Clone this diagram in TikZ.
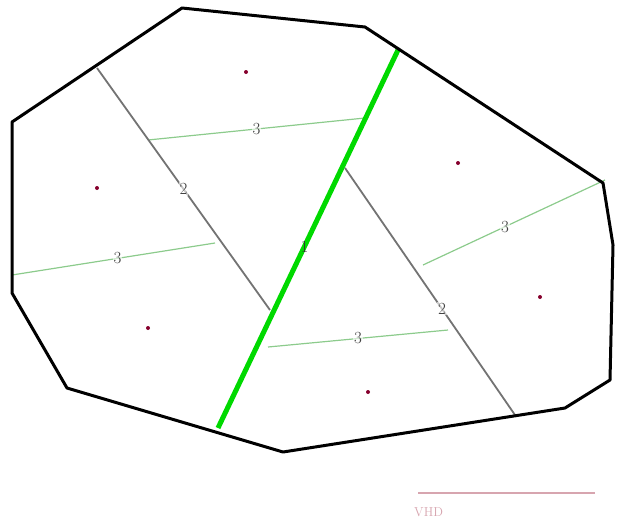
\documentclass[tikz,border=0pt]{standalone}
\definecolor{barcol}{RGB}{215,165,175}
\begin{document}
\begin{tikzpicture}[x=1pt,y=-1pt,
  hull/.style={line width=3pt,black,line join=round},
  cutA/.style={line width=5pt,green!85!black},
  cutB/.style={line width=1.8pt,black!55},
  cutC/.style={line width=1.2pt,green!55!black!45},
  lab/.style={font=\fontsize{17}{19}\selectfont,text=black!75,inner sep=1pt,fill=white,fill opacity=0.6,text opacity=1},
  site/.style={circle,fill=purple!70!black,inner sep=0pt,minimum size=4pt}]
\useasboundingbox (0,0) rectangle (617,528);
% hull vertices
\coordinate (p1) at (182,8);
\coordinate (p2) at (365,27);
\coordinate (p3) at (603,183);
\coordinate (p4) at (613,245);
\coordinate (p5) at (610,380);
\coordinate (p6) at (565,408);
\coordinate (p7) at (283,452);
\coordinate (p8) at (67,388);
\coordinate (p9) at (12,293);
\coordinate (p10) at (12,122);
% cut endpoints
\coordinate (g1) at (398,50);
\coordinate (g2) at (218,428);
\coordinate (a1) at (97,68);
\coordinate (a2) at (270,310);
\coordinate (b1) at (345,168);
\coordinate (b2) at (515,415);
\coordinate (c1) at (148,140);
\coordinate (c2) at (365,118);
\coordinate (d1) at (12,275);
\coordinate (d2) at (215,243);
\coordinate (e1) at (423,265);
\coordinate (e2) at (605,180);
\coordinate (f1) at (268,347);
\coordinate (f2) at (448,330);
% light cuts
\draw[cutC] (c1) -- node[lab] (l3a) {3} (c2);
\draw[cutC] (d1) -- node[lab,pos=0.52] (l3b) {3} (d2);
\draw[cutC] (e1) -- node[lab,pos=0.45] (l3c) {3} (e2);
\draw[cutC] (f1) -- node[lab,pos=0.5] (l3d) {3} (f2);
% gray cuts
\draw[cutB] (a1) -- node[lab,pos=0.5] (l2a) {2} (a2);
\draw[cutB] (b1) -- node[lab,pos=0.57] (l2b) {2} (b2);
% main cut
\draw[cutA] (g1) -- node[lab,pos=0.52,fill opacity=0,text=black!80] (l1) {1} (g2);
% hull
\draw[hull] (p1) -- (p2) -- (p3) -- (p4) -- (p5) -- (p6) -- (p7) -- (p8) -- (p9) -- (p10) -- cycle;
% sites
\node[site] (s1) at (246,72) {};
\node[site] (s2) at (97,188) {};
\node[site] (s3) at (148,328) {};
\node[site] (s4) at (458,163) {};
\node[site] (s5) at (540,297) {};
\node[site] (s6) at (368,392) {};
% scale bar
\coordinate (r1) at (418,493);
\coordinate (r2) at (595,493);
\draw[barcol,line width=1.8pt] (r1) -- (r2);
\node[font=\fontsize{13}{15}\selectfont,text=barcol,anchor=west,inner sep=0pt] (vhd) at (414,512) {VHD};
\end{tikzpicture}
\end{document}
